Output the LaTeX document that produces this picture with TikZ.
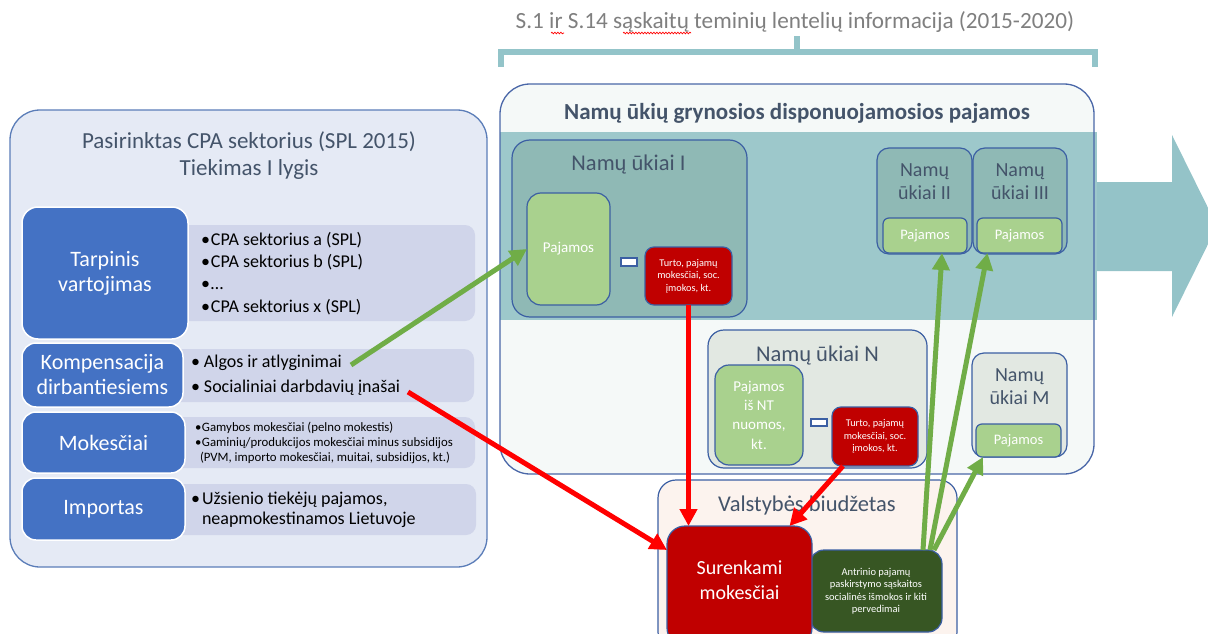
\documentclass[tikz,border=0pt]{standalone}
\usepackage{fontspec}
\setmainfont{Carlito}
\usetikzlibrary{arrows.meta,decorations.pathmorphing}
\definecolor{titlegray}{HTML}{7F7F7F}
\definecolor{slate}{HTML}{44546A}
\definecolor{leftfill}{HTML}{E5EAF5}
\definecolor{leftborder}{HTML}{5B7DB8}
\definecolor{grayfill}{HTML}{D0D5EA}
\definecolor{blueblk}{HTML}{4472C4}
\definecolor{bigfill}{HTML}{F5F9F8}
\definecolor{bigborder}{HTML}{4A67A8}
\definecolor{bandc}{HTML}{9DC8CB}
\definecolor{hhfill}{HTML}{8FB9B5}
\definecolor{lightfill}{HTML}{E2E8E2}
\definecolor{gfill}{HTML}{A9D18E}
\definecolor{inborder}{HTML}{3B5FA3}
\definecolor{redfill}{HTML}{C00000}
\definecolor{budgetfill}{HTML}{FCF3EE}
\definecolor{darkgreen}{HTML}{375623}
\definecolor{arrowteal}{HTML}{94C3C8}
\definecolor{bracketc}{HTML}{93C4C9}
\definecolor{greenarrow}{HTML}{70AD47}
\definecolor{redarrow}{HTML}{FF0000}
\newcommand\fsz[2]{\fontsize{#1}{#2}\selectfont}
\newcommand\blt[1]{\makebox[#1][l]{•}}
\begin{document}
\begin{tikzpicture}[x=1pt,y=-1pt,
  every node/.style={inner sep=0pt, outer sep=0pt},
  wh/.style 2 args={minimum width=#1pt, minimum height=#2pt},
  geo/.style={anchor=north west, align=center},
  leftbox/.style={geo, draw=leftborder, fill=leftfill, line width=1.3pt, rounded corners=30pt},
  graybox/.style={geo, fill=grayfill, rounded corners=10pt},
  blueblock/.style={geo, fill=blueblk, draw=white, line width=1.5pt, rounded corners=16pt, text=white, font=\fsz{22}{25}},
  bigbox/.style={geo, fill=bigfill, rounded corners=30pt},
  hhbox/.style={geo, fill=hhfill, draw=inborder, line width=1.2pt, rounded corners=16pt},
  lightbox/.style={geo, fill=lightfill, draw=inborder, line width=1.2pt, rounded corners=16pt},
  gbox/.style={geo, fill=gfill, draw=inborder, line width=1.2pt, rounded corners=12pt, text=white},
  minusbox/.style={geo, fill=white, draw=inborder, line width=1.2pt},
  rbox/.style={geo, fill=redfill, draw=inborder, line width=1.2pt, rounded corners=9pt, text=white, font=\fsz{10.3}{12.5}},
  garrow/.style={draw=greenarrow, line width=5pt, -{Triangle[length=17pt,width=17pt]}},
  rarrow/.style={draw=redarrow, line width=5pt, -{Triangle[length=17pt,width=17pt]}},
  hhtitle/.style={font=\fsz{22.5}{26}, text=slate, align=center},
  smalltitle/.style={font=\fsz{20}{23}, text=slate, align=center},
  squiggle/.style={draw=red, line width=0.7pt, decorate, decoration={snake, amplitude=0.8pt, segment length=3pt}}
]
\useasboundingbox (0,0) rectangle (1208,634);
\clip (0,0) rectangle (1208,634);

% ---------- left panel ----------
\node[leftbox, wh={477}{457}] (left) at (10,110) {};
\node[font=\fsz{23}{27}, text=slate, align=center] (lefttitle) at (249,156) {Pasirinktas CPA sektorius (SPL 2015)\\Tiekimas I lygis};

\node[graybox, wh={300}{96}] (g1) at (175,225) {};
\node[graybox, wh={304}{53}] (g2) at (170,349) {};
\node[graybox, wh={303}{51}] (g3) at (172,417) {};
\node[graybox, wh={304}{51}] (g4) at (172,484) {};

\node[blueblock, wh={166}{132}] (tarp) at (22,207) {Tarpinis\\vartojimas};
\node[blueblock, wh={161}{64}, rounded corners=14pt] (komp) at (22,343) {Kompensacija\\dirbantiesiems};
\node[blueblock, wh={163}{61}, rounded corners=14pt] (mok) at (22,412) {Mokesčiai};
\node[blueblock, wh={163}{62}, rounded corners=14pt] (imp) at (22,478) {Importas};

\node[anchor=west, align=left, font=\fsz{18}{22.3}] (t1) at (201,273.5) {\blt{10pt}CPA sektorius a (SPL)\\\blt{10pt}CPA sektorius b (SPL)\\\blt{10pt}…\\\blt{10pt}CPA sektorius x (SPL)};
\node[anchor=west, align=left, font=\fsz{18}{25}] (t2) at (191,375.5) {\blt{13pt}Algos ir atlyginimai\\\blt{13pt}Socialiniai darbdavių įnašai};
\node[anchor=west, align=left, font=\fsz{12.8}{15.3}] (t3) at (195,443) {\blt{7pt}Gamybos mokesčiai (pelno mokestis)\\\blt{7pt}Gaminių/produkcijos mokesčiai minus subsidijos\\\hspace{5pt}(PVM, importo mokesčiai, muitai, subsidijos, kt.)};
\node[anchor=west, align=left, font=\fsz{18}{20.5}] (t4) at (191,510) {\blt{11pt}Užsienio tiekėjų pajamos,\\\hspace{11pt}neapmokestinamos Lietuvoje};

% ---------- top title and bracket ----------
\node[font=\fsz{23.2}{27}, text=titlegray] (toptitle) at (795,22) {S.1 ir S.14 sąskaitų teminių lentelių informacija (2015-2020)};
\draw[squiggle] (551,33) -- (564,33);
\draw[squiggle] (623,33) -- (691,33);
\draw[draw=bracketc, line width=6pt] (501,67) -- (501,52) -- (1095,52) -- (1095,67);
\draw[draw=bracketc, line width=6pt] (797,52) -- (797,36);

% ---------- big household box ----------
\node[bigbox, wh={594}{390}] (hh) at (500,84) {};
\fill[bandc] (500,132) rectangle (1097,320);
\draw[bigborder, line width=1.3pt, rounded corners=30pt] (hh.north west) rectangle (hh.south east);
\fill[arrowteal] (1097,182) -- (1172,182) -- (1172,135) -- (1217,226) -- (1172,317) -- (1172,271) -- (1097,271) -- cycle;
\node[font=\bfseries\fsz{23}{26}, text=slate] (hhtitleN) at (797,113) {Namų ūkių grynosios disponuojamosios pajamos};

% Namu ukiai I
\node[hhbox, wh={235}{177}, rounded corners=18pt] (hhI) at (512,140) {};
\node[hhtitle] (hhIt) at (628.5,165) {Namų ūkiai I};
\node[gbox, wh={83}{112}, rounded corners=14pt, font=\fsz{15}{18}] (pajI) at (527,193) {Pajamos};
\node[minusbox, wh={16}{8}] (minI) at (621,258) {};
\node[rbox, wh={87}{58}] (redI) at (645,247) {Turto, pajamų\\mokesčiai, soc.\\įmokos, kt.};

% Namu ukiai II, III
\node[hhbox, wh={95}{106}, rounded corners=12pt] (hhII) at (877,148) {};
\node[smalltitle] (hhIIt) at (924.5,181.5) {Namų\\ūkiai II};
\node[gbox, wh={84}{35}, rounded corners=6pt, font=\fsz{14.5}{17}] (pajII) at (883,218) {Pajamos};
\node[hhbox, wh={94}{106}, rounded corners=12pt] (hhIII) at (973,148) {};
\node[smalltitle] (hhIIIt) at (1020,181.5) {Namų\\ūkiai III};
\node[gbox, wh={85}{35}, rounded corners=6pt, font=\fsz{14.5}{17}] (pajIII) at (977,218) {Pajamos};

% Namu ukiai N
\node[lightbox, wh={219}{138}] (hhN) at (708,330) {};
\node[hhtitle] (hhNt) at (817.5,355) {Namų ūkiai N};
\node[gbox, wh={88}{100}, rounded corners=14pt, font=\fsz{15}{19.3}] (pajN) at (715,365) {Pajamos\\iš NT\\nuomos,\\kt.};
\node[minusbox, wh={16}{7}] (minN) at (811,419) {};
\node[rbox, wh={86}{59}] (redN) at (832,407) {Turto, pajamų\\mokesčiai, soc.\\įmokos, kt.};

% Namu ukiai M
\node[lightbox, wh={95}{104}, rounded corners=12pt] (hhM) at (972,353) {};
\node[smalltitle] (hhMt) at (1019.5,386.5) {Namų\\ūkiai M};
\node[gbox, wh={85}{33}, rounded corners=6pt, font=\fsz{14.5}{17}] (pajM) at (976,424) {Pajamos};

% ---------- state budget ----------
\node[geo, fill=budgetfill, draw=inborder, line width=1.2pt, rounded corners=18pt, wh={299}{170}] (budget) at (658,480) {};
\node[hhtitle] (budgett) at (807,505) {Valstybės biudžetas};
\node[geo, fill=darkgreen, draw=inborder, line width=1.2pt, rounded corners=14pt, wh={132}{82}, text=white, font=\fsz{10.5}{12.5}] (ant) at (810,550) {Antrinio pajamų\\paskirstymo sąskaitos\\socialinės išmokos ir kiti\\pervedimai};
\node[geo, fill=redfill, draw=inborder, line width=1.2pt, rounded corners=18pt, wh={145}{120}] (sur) at (667,526) {};
\node[text=white, font=\fsz{20}{25}, align=center] (surt) at (739.5,580.5) {Surenkami\\mokesčiai};

% ---------- connectors ----------
\coordinate (gstart) at (351,365);
\coordinate (rstart) at (408,392);
\draw[garrow] (gstart) -- (pajI.west);
\draw[rarrow] (rstart) -- ([yshift=-24pt]sur.north west);
\draw[rarrow] (redI.south) -- (redI.south |- sur.north);
\draw[rarrow] ([xshift=-32pt]redN.south) -- ([xshift=50pt]sur.north);
\draw[garrow] ([xshift=-19pt]ant.north east) -- ([xshift=17pt]pajII.south);
\draw[garrow] ([xshift=-12pt]ant.north east) -- ([xshift=-32pt]pajIII.south);
\draw[garrow] ([xshift=-8pt]ant.north east) -- ([xshift=7pt]pajM.south west);
\end{tikzpicture}
\end{document}
